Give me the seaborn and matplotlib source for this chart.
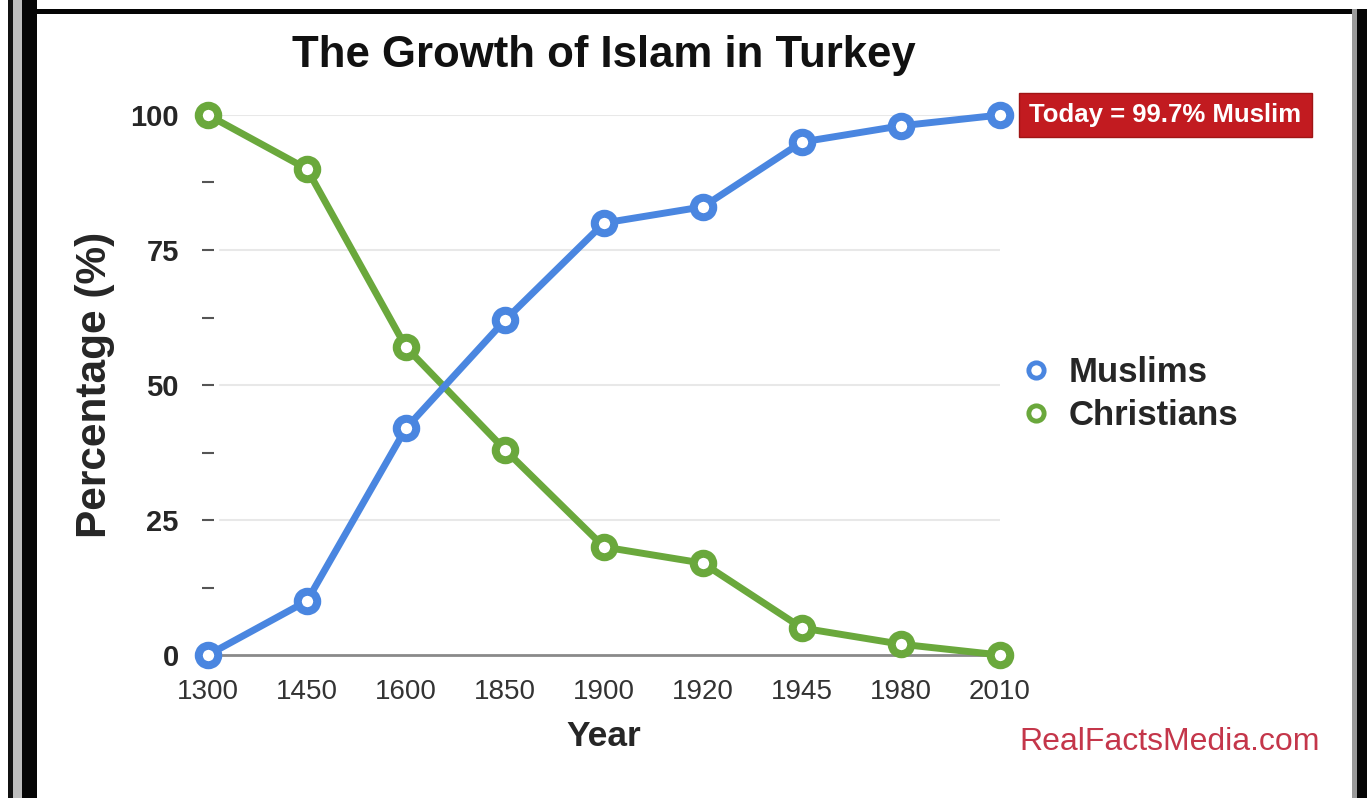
import numpy as np
import matplotlib
matplotlib.use("Agg")
import matplotlib.pyplot as plt
import pandas as pd
import seaborn as sns
from matplotlib.lines import Line2D
from matplotlib.patches import Rectangle

years = ["1300", "1450", "1600", "1850", "1900", "1920", "1945", "1980", "2010"]
muslims = [0, 10, 42, 62, 80, 83, 95, 98, 100]
christians = [100, 90, 57, 38, 20, 17, 5, 2, 0]
series = ["Muslims", "Christians"]
colors = ["#4a86e0", "#6aa83c"]

W, H = 1370, 798

df = pd.concat([
    pd.DataFrame({"pos": np.arange(len(years)), "year": years, "pct": muslims, "group": "Muslims"}),
    pd.DataFrame({"pos": np.arange(len(years)), "year": years, "pct": christians, "group": "Christians"}),
])

sns.set_style("white")
plt.rcParams["font.family"] = ["Liberation Sans", "DejaVu Sans"]

fig = plt.figure(figsize=(W / 100, H / 100), dpi=100)
ax = fig.add_axes([208 / W, 1 - 655 / H, (1000 - 208) / W, (655 - 115) / H])

sns.lineplot(data=df, x="pos", y="pct", hue="group", hue_order=series,
             palette=dict(zip(series, colors)), marker="o", markersize=14,
             linewidth=5, legend=False, ax=ax)

for ln in ax.lines:
    c = ln.get_color()
    ln.set_markerfacecolor("white")
    ln.set_markeredgecolor(c)
    ln.set_markeredgewidth(5.8)
    ln.set_clip_on(False)
    ln.set_solid_capstyle("round")
    if c == colors[0]:
        ln.set_zorder(4)
    else:
        ln.set_zorder(3)

ax.set_xlim(0, len(years) - 1)
ax.set_ylim(0, 100)
ax.set_xticks(np.arange(len(years)))
ax.set_xticklabels(years)
ax.set_yticks([0, 25, 50, 75, 100])
ax.set_yticks([12.5, 37.5, 62.5, 87.5], minor=True)

# gridlines start a little right of the axis
for g in [25, 50, 75, 100]:
    ax.axhline(g, xmin=0.015, xmax=1, color="#e8e8e8", lw=1.5, zorder=0)

for s in ["top", "right", "left"]:
    ax.spines[s].set_visible(False)
ax.spines["bottom"].set_color("#8a8a8a")
ax.spines["bottom"].set_linewidth(2)
ax.spines["bottom"].set_zorder(1)

ax.tick_params(axis="x", length=0, pad=17, labelsize=20, labelcolor="#333333")
ax.tick_params(axis="y", which="both", direction="inout", length=8, width=1.5,
               color="#555555", pad=17, left=True)
ax.tick_params(axis="y", which="major", labelsize=21)
for lab in ax.get_yticklabels():
    lab.set_fontweight("bold")
# no dash at zero
ax.yaxis.get_major_ticks()[0].tick1line.set_visible(False)

ax.set_xlabel("Year", fontsize=25.5, fontweight="bold")
ax.xaxis.set_label_coords(0.5, -0.12)
ax.set_ylabel("Percentage (%)", fontsize=30.5, fontweight="bold")
ax.yaxis.set_label_coords(-0.118, 0.5)

fig.text(604 / W, 1 - 55 / H, "The Growth of Islam in Turkey", ha="center", va="center",
         fontsize=31.5, fontweight="bold", color="#111111")

ax.annotate("Today = 99.7% Muslim", xy=(len(years) - 1, muslims[-1]), xytext=(21, 0),
            textcoords="offset points", ha="left", va="center", fontsize=18.5,
            fontweight="bold", color="white", annotation_clip=False,
            bbox=dict(boxstyle="square,pad=0.4", fc="#c21b20", ec="#a01515", lw=1))

handles = [Line2D([], [], ls="none", marker="o", markersize=11, markeredgewidth=3.5,
                  markerfacecolor="white", markeredgecolor=c) for c in colors]
leg = fig.legend(handles, series, loc="center left", bbox_to_anchor=(984 / W, 1 - 394 / H),
                 frameon=False, handletextpad=0.35, labelspacing=0.3, handlelength=1.2,
                 prop=dict(size=25, weight="bold"))

fig.text(1170 / W, 1 - 742 / H, "RealFactsMedia.com", ha="center", va="center",
         fontsize=23, color="#c4364a")

# photo frame
def frame(x0, y0, x1, y1, col):
    fig.patches.append(Rectangle((x0 / W, 1 - y1 / H), (x1 - x0) / W, (y1 - y0) / H,
                                 transform=fig.transFigure, fc=col, ec="none", zorder=10))

frame(8, 0, 13, H, "#111111")
frame(13, 0, 22, H, "#bdbdbd")
frame(22, 0, 37, H, "#050505")
frame(22, 9, 1367, 14, "#050505")
frame(1352, 9, 1357, H, "#9a9a9a")
frame(1357, 9, 1367, H, "#050505")

fig.savefig("out.png", dpi=100, facecolor="white")
